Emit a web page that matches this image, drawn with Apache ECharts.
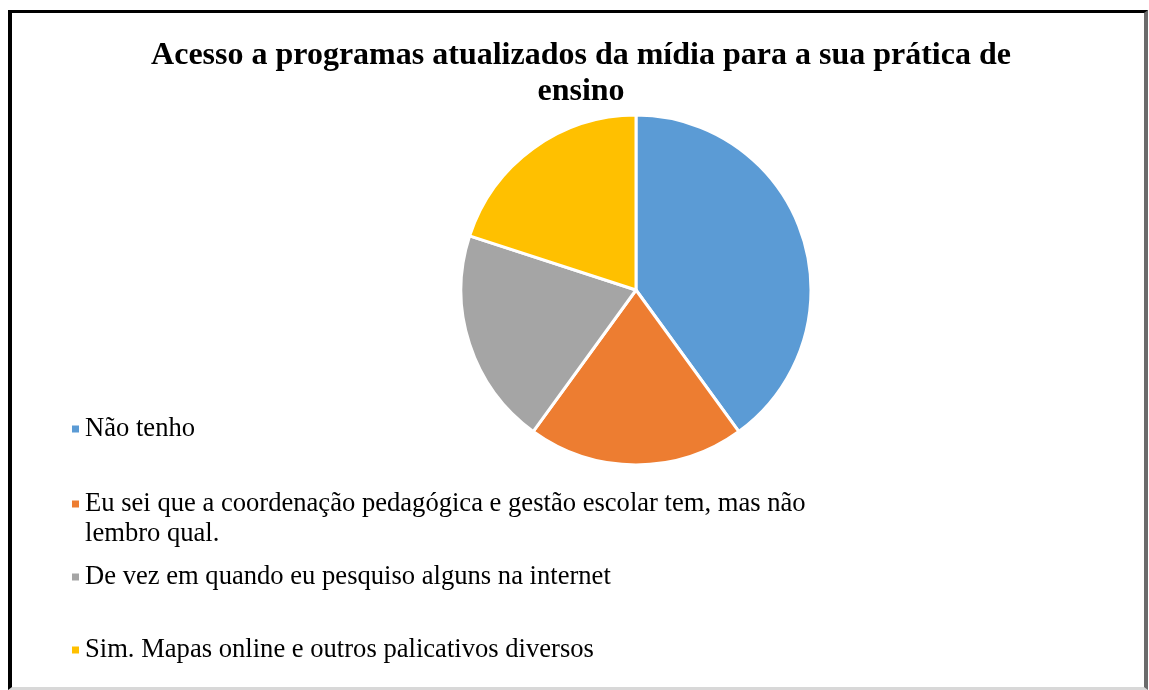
<!DOCTYPE html>
<html>
<head>
<meta charset="utf-8">
<script src="https://cdn.jsdelivr.net/npm/echarts@6/dist/echarts.min.js"></script>
<style>
    html, body { margin: 0; padding: 0; background: #fff; }
    #chart { position: absolute; left: 0; top: 0; width: 1149px; height: 690px; }
    .frame {
        position: absolute; left: 8px; top: 10px; width: 1132px; height: 674px;
        border-left: 4px solid #000; border-top: 3px solid #000;
        border-right: 4px solid #6b6b6b; border-bottom: 3px solid #d8d8d8;
        pointer-events: none;
    }
</style>
</head>
<body>
<div id="chart"></div>
<div class="frame"></div>
<script>
var titleText = 'Acesso a programas atualizados da mídia para a sua prática de\nensino';
var categories = [
    'Não tenho',
    'Eu sei que a coordenação pedagógica e gestão escolar tem, mas não lembro qual.',
    'De vez em quando eu pesquiso alguns na internet',
    'Sim. Mapas online e outros palicativos diversos'
];
var values = [40, 20, 20, 20];
var colors = ['#5B9BD5', '#ED7D31', '#A5A5A5', '#FFC000'];
var legendTops = [409, 454, 557, 630];

var chart = echarts.init(document.getElementById('chart'));

var legends = categories.map(function (name, i) {
    return {
        data: [name],
        left: 65,
        top: legendTops[i],
        orient: 'vertical',
        icon: 'rect',
        itemWidth: 9,
        itemHeight: 9,
        itemGap: 0,
        selectedMode: false,
        // the long item wraps; a blank first line keeps the icon beside line one
        formatter: function (n) {
            return i === 1 ? '\n' + n.replace(' lembro', '\nlembro') : n;
        },
        textStyle: {
            fontFamily: 'Liberation Serif',
            fontSize: 26.6,
            color: '#000',
            lineHeight: 30
        }
    };
});

chart.setOption({
    animation: false,
    color: colors,
    title: {
        text: titleText,
        left: 576,
        textAlign: 'center',
        top: 33,
        textStyle: {
            fontFamily: 'Liberation Serif',
            fontWeight: 'bold',
            fontSize: 32,
            lineHeight: 36,
            color: '#000'
        }
    },
    legend: legends,
    series: [
        {
            type: 'pie',
            center: [636, 290],
            radius: 175,
            startAngle: 90,
            clockwise: true,
            label: {show: false},
            labelLine: {show: false},
            itemStyle: {borderColor: '#fff', borderWidth: 3},
            data: categories.map(function (name, i) {
                return {name: name, value: values[i]};
            })
        }
    ]
});
</script>
</body>
</html>
